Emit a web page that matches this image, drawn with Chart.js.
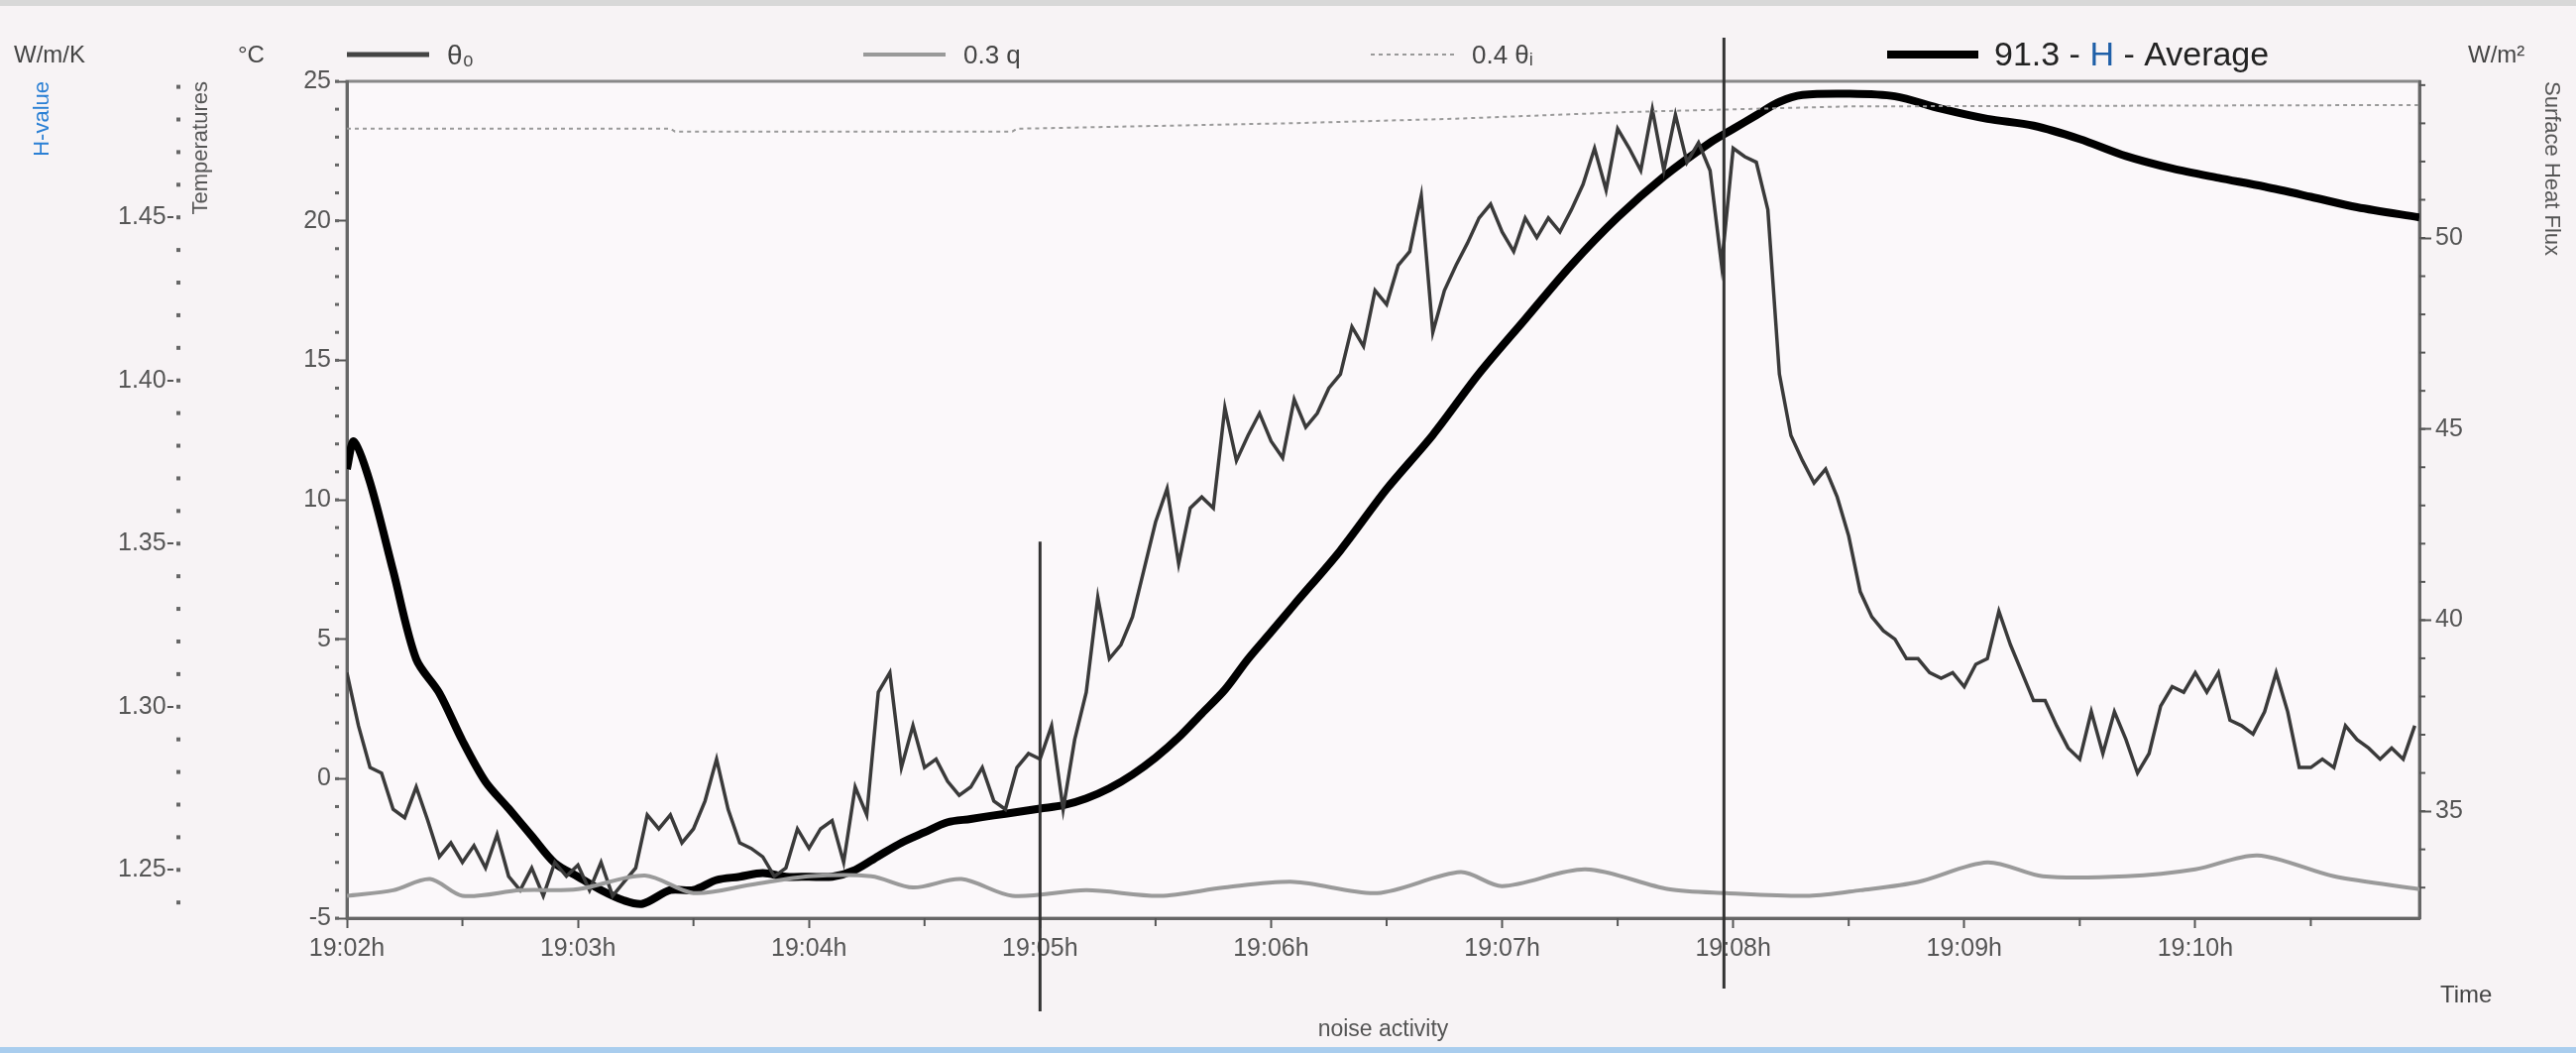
<!DOCTYPE html>
<html><head><meta charset="utf-8">
<script src="https://cdn.jsdelivr.net/npm/chart.js@4"></script>
<style>
html,body{margin:0;padding:0;background:#fff;overflow:hidden;}
#wrap{position:relative;width:2599px;height:1062px;background:#f7f3f5;box-sizing:border-box;border-top:6px solid #d8d8d8;border-bottom:6px solid #a9cdee;}
canvas{display:block;}
</style></head><body>
<div id="wrap"><canvas id="c" width="2599" height="1050"></canvas></div>
<script>
// Time in minutes after 19:02h
const xTickLabels = ["19:02h","19:03h","19:04h","19:05h","19:06h","19:07h","19:08h","19:09h","19:10h"];
const thetaStep = 0.05;
const thetaValues = [
 3.8,1.9,0.4,0.2,-1.1,-1.4,-0.3,-1.5,-2.8,-2.3,-3.0,-2.4,-3.2,-2,-3.5,-4,-3.2,-4.2,-3,-3.5,
 -3.1,-4,-3,-4.2,-3.7,-3.2,-1.3,-1.8,-1.3,-2.3,-1.8,-0.8,0.7,-1.1,-2.3,-2.5,-2.8,-3.5,-3.2,-1.8,
 -2.5,-1.8,-1.5,-3,-0.3,-1.3,3.1,3.8,0.4,1.9,0.4,0.7,-0.1,-0.6,-0.3,0.4,-0.8,-1.1,0.4,0.9,
 0.7,1.9,-1.1,1.4,3.1,6.5,4.3,4.8,5.8,7.5,9.2,10.4,7.7,9.7,10.1,9.7,13.3,11.4,12.3,13.1,
 12.1,11.5,13.6,12.6,13.1,14,14.5,16.2,15.5,17.5,17,18.4,18.9,20.9,16,17.5,18.4,19.2,20.1,20.6,
 19.6,18.9,20.1,19.4,20.1,19.6,20.4,21.3,22.6,21.1,23.3,22.6,21.8,24,21.8,23.8,22.1,22.8,21.8,18.4,
 22.6,22.3,22.1,20.4,14.5,12.3,11.4,10.6,11.1,10.1,8.7,6.7,5.8,5.3,5,4.3,4.3,3.8,3.6,3.8,
 3.3,4.1,4.3,6,4.8,3.8,2.8,2.8,1.9,1.1,0.7,2.4,0.9,2.4,1.4,0.2,0.9,2.6,3.3,3.1,
 3.8,3.1,3.8,2.1,1.9,1.6,2.4,3.8,2.4,0.4,0.4,0.7,0.4,1.9,1.4,1.1,0.7,1.1,0.7,1.9
];
const qTimes  = [0,0.2,0.36,0.5,0.75,1.0,1.29,1.5,1.75,2.0,2.27,2.45,2.66,2.88,3.2,3.52,3.8,4.1,4.46,4.82,5.0,5.36,5.72,5.97,6.33,6.55,6.8,7.1,7.34,7.7,8.0,8.27,8.6,8.97];
const qValues = [-4.2,-4.0,-3.6,-4.2,-4.0,-3.96,-3.47,-4.1,-3.8,-3.5,-3.5,-3.9,-3.6,-4.2,-4.0,-4.2,-3.9,-3.7,-4.1,-3.35,-3.85,-3.25,-3.96,-4.1,-4.2,-4.0,-3.7,-3.0,-3.5,-3.5,-3.25,-2.75,-3.5,-3.96];
const thetaITimes  = [0,1.4,1.42,2.88,2.9,4.1,4.8,5.55,6.5,8.97];
const thetaIValues = [23.3,23.3,23.2,23.2,23.3,23.5,23.66,23.9,24.1,24.15];
const hTimes  = [0,0.03,0.1,0.2,0.3,0.4,0.5,0.6,0.7,0.8,0.9,1.0,1.1,1.2,1.28,1.4,1.5,1.6,1.7,1.8,1.9,2.0,2.1,2.2,2.3,2.4,2.5,2.6,2.7,2.8,2.9,3.0,3.1,3.2,3.3,3.4,3.5,3.6,3.7,3.8,3.9,4.0,4.1,4.3,4.5,4.7,4.9,5.1,5.3,5.5,5.7,5.9,6.0,6.1,6.2,6.3,6.5,6.7,6.9,7.1,7.3,7.5,7.7,7.9,8.1,8.3,8.5,8.7,8.97];
const hValues = [1.3729,1.3813,1.3688,1.3417,1.3146,1.3042,1.2896,1.277,1.2688,1.2604,1.2521,1.2479,1.2438,1.2406,1.2396,1.2438,1.2438,1.2469,1.2479,1.249,1.2479,1.2479,1.2479,1.25,1.2542,1.2583,1.2615,1.2646,1.2656,1.2667,1.2677,1.2688,1.2698,1.2719,1.275,1.2792,1.2844,1.2906,1.2979,1.3052,1.3146,1.3229,1.3313,1.3479,1.3667,1.3833,1.4021,1.4188,1.4354,1.45,1.4625,1.4729,1.4771,1.4813,1.4854,1.4875,1.4879,1.4871,1.4833,1.4802,1.4781,1.474,1.4688,1.465,1.4621,1.4594,1.4563,1.4531,1.45];
const markerTimes = [3.0, 5.96];

const F = "'Liberation Sans', Arial, sans-serif";
const pts = (xs, ys) => ys.map((v,i)=>({x:xs[i], y:v}));
const thetaPts = thetaValues.map((v,i)=>({x:+(i*thetaStep).toFixed(2), y:v}));

const minorPlugin = {
  id:'minor',
  afterDraw(ch){
    const c=ch.ctx, a=ch.chartArea, s=ch.scales;
    c.save(); c.fillStyle='#666'; c.strokeStyle='#555'; c.lineWidth=2;
    for(let v=-5; v<=25; v+=1){ const y=s.yT.getPixelForValue(v); c.fillRect(a.left-12,y-1.5,4,3); }
    for(let k=124; k<=149; k++){ const y=s.yH.getPixelForValue(k/100); c.fillRect(s.yH.right-8,y-2,4,4); }
    for(let v=33; v<=54; v++){ const y=s.yR.getPixelForValue(v); c.beginPath(); c.moveTo(a.right,y); c.lineTo(a.right+6,y); c.stroke(); }
    for(let m=0.5; m<9; m+=1){ const x=s.x.getPixelForValue(m); c.beginPath(); c.moveTo(x,a.bottom); c.lineTo(x,a.bottom+8); c.stroke(); }
    c.strokeStyle='#333'; c.lineWidth=3;
    const tops=[s.yT.getPixelForValue(8.5), a.top-44], bots=[a.bottom+94, a.bottom+71];
    markerTimes.forEach((m,i)=>{ const x=s.x.getPixelForValue(m); c.beginPath(); c.moveTo(x,tops[i]); c.lineTo(x,bots[i]); c.stroke(); });
    c.fillStyle='#444'; c.font='24px '+F; c.textBaseline='middle';
    c.textAlign='left'; c.fillText('W/m/K',14,50); c.fillText('°C',240,50);
    c.fillText('W/m²',2490,50);
    c.fillText('Time',2462,998);
    const leg=[[350,433,'θ₀','#444',5,[] ,'28px'],[871,954,'0.3 q','#999',4,[],'26px'],[1383,1467,'0.4 θᵢ','#999',2,[4,4],'26px']];
    leg.forEach(l=>{ c.strokeStyle=l[3]; c.lineWidth=l[4]; c.setLineDash(l[5]); c.beginPath(); c.moveTo(l[0],49); c.lineTo(l[1],49); c.stroke(); c.setLineDash([]); c.fillStyle='#444'; c.font=l[6]+' '+F; c.fillText(l[2],l[1]+18,51); });
    c.strokeStyle='#000'; c.lineWidth=8; c.beginPath(); c.moveTo(1904,49); c.lineTo(1996,49); c.stroke();
    c.font='34px '+F; let x=2012; const parts=[['91.3 - ','#222'],['H','#1f5fa8'],[' - Average','#222']];
    parts.forEach(p=>{ c.fillStyle=p[1]; c.fillText(p[0],x,51); x+=c.measureText(p[0]).width; });
    c.restore();
  }
};

new Chart(document.getElementById('c'), {
  type:'line',
  data:{datasets:[
    {label:'0.4 θi', data:pts(thetaITimes,thetaIValues), yAxisID:'yT', borderColor:'#9a9a9a', borderWidth:2, borderDash:[4,4], pointRadius:0},
    {label:'0.3 q', data:pts(qTimes,qValues), yAxisID:'yT', borderColor:'#9a9a9a', borderWidth:4, pointRadius:0, tension:0.3},
    {label:'θ0', data:thetaPts, yAxisID:'yT', borderColor:'#3a3a3a', borderWidth:3.5, pointRadius:0},
    {label:'91.3 - H - Average', data:pts(hTimes,hValues), yAxisID:'yH', borderColor:'#000', borderWidth:8, pointRadius:0, tension:0.3}
  ]},
  options:{
    responsive:false, animation:false, devicePixelRatio:1,
    layout:{padding:{top:76,left:26,right:8,bottom:0}},
    plugins:{legend:{display:false}, tooltip:{enabled:false}},
    scales:{
      x:{type:'linear', min:0, max:8.97, position:'bottom',
         afterBuildTicks(s){ s.ticks=xTickLabels.map((_,i)=>({value:i})); },
         ticks:{callback:(v)=>xTickLabels[v]||'', color:'#555', font:{family:F,size:25}, padding:6, maxRotation:0, autoSkip:false},
         grid:{drawOnChartArea:false, color:'#555', tickLength:10, tickWidth:2},
         border:{color:'#666', width:3},
         title:{display:true, text:'noise activity', color:'#555', font:{family:F,size:23}, padding:{top:4}},
         afterFit(s){ s.height=130; }},
      yT:{type:'linear', position:'left', min:-5, max:25,
         ticks:{stepSize:5, color:'#555', font:{family:F,size:25}, padding:4},
         grid:{drawOnChartArea:false, color:'#555', tickLength:12, tickWidth:2},
         border:{color:'#666', width:3},
         title:{display:true, text:'Temperatures', color:'#555', align:'end', font:{family:F,size:22}, padding:{bottom:2}},
         afterFit(s){ s.width=164; }},
      yH:{type:'linear', position:'left', min:1.2352, max:1.4917,
         afterBuildTicks(s){ s.ticks=[1.25,1.30,1.35,1.40,1.45].map(v=>({value:v})); },
         ticks:{callback:v=>v.toFixed(2)+'-', color:'#555', font:{family:F,size:25}, padding:2},
         grid:{display:false}, border:{display:false},
         title:{display:true, text:'H-value', color:'#2a7fd4', align:'end', font:{family:F,size:22}, padding:{bottom:14}},
         afterFit(s){ s.width=160; }},
      yR:{type:'linear', position:'right', min:32.2, max:54.1,
         afterBuildTicks(s){ s.ticks=[35,40,45,50].map(v=>({value:v})); },
         ticks:{color:'#555', font:{family:F,size:25}, padding:4},
         grid:{drawOnChartArea:false, color:'#555', tickLength:12, tickWidth:2},
         border:{color:'#666', width:3},
         title:{display:true, text:'Surface Heat Flux', color:'#555', align:'end', font:{family:F,size:22}},
         afterFit(s){ s.width=150; }}
    }
  },
  plugins:[minorPlugin, {id:'bg', beforeDraw(ch){const c=ch.ctx,a=ch.chartArea; c.save(); c.fillStyle='#fbf8fa'; c.fillRect(a.left,a.top,a.right-a.left,a.bottom-a.top); c.strokeStyle='#888'; c.lineWidth=3; c.strokeRect(a.left,a.top,a.right-a.left,a.bottom-a.top); c.restore();}}]
});
</script>
</body></html>
